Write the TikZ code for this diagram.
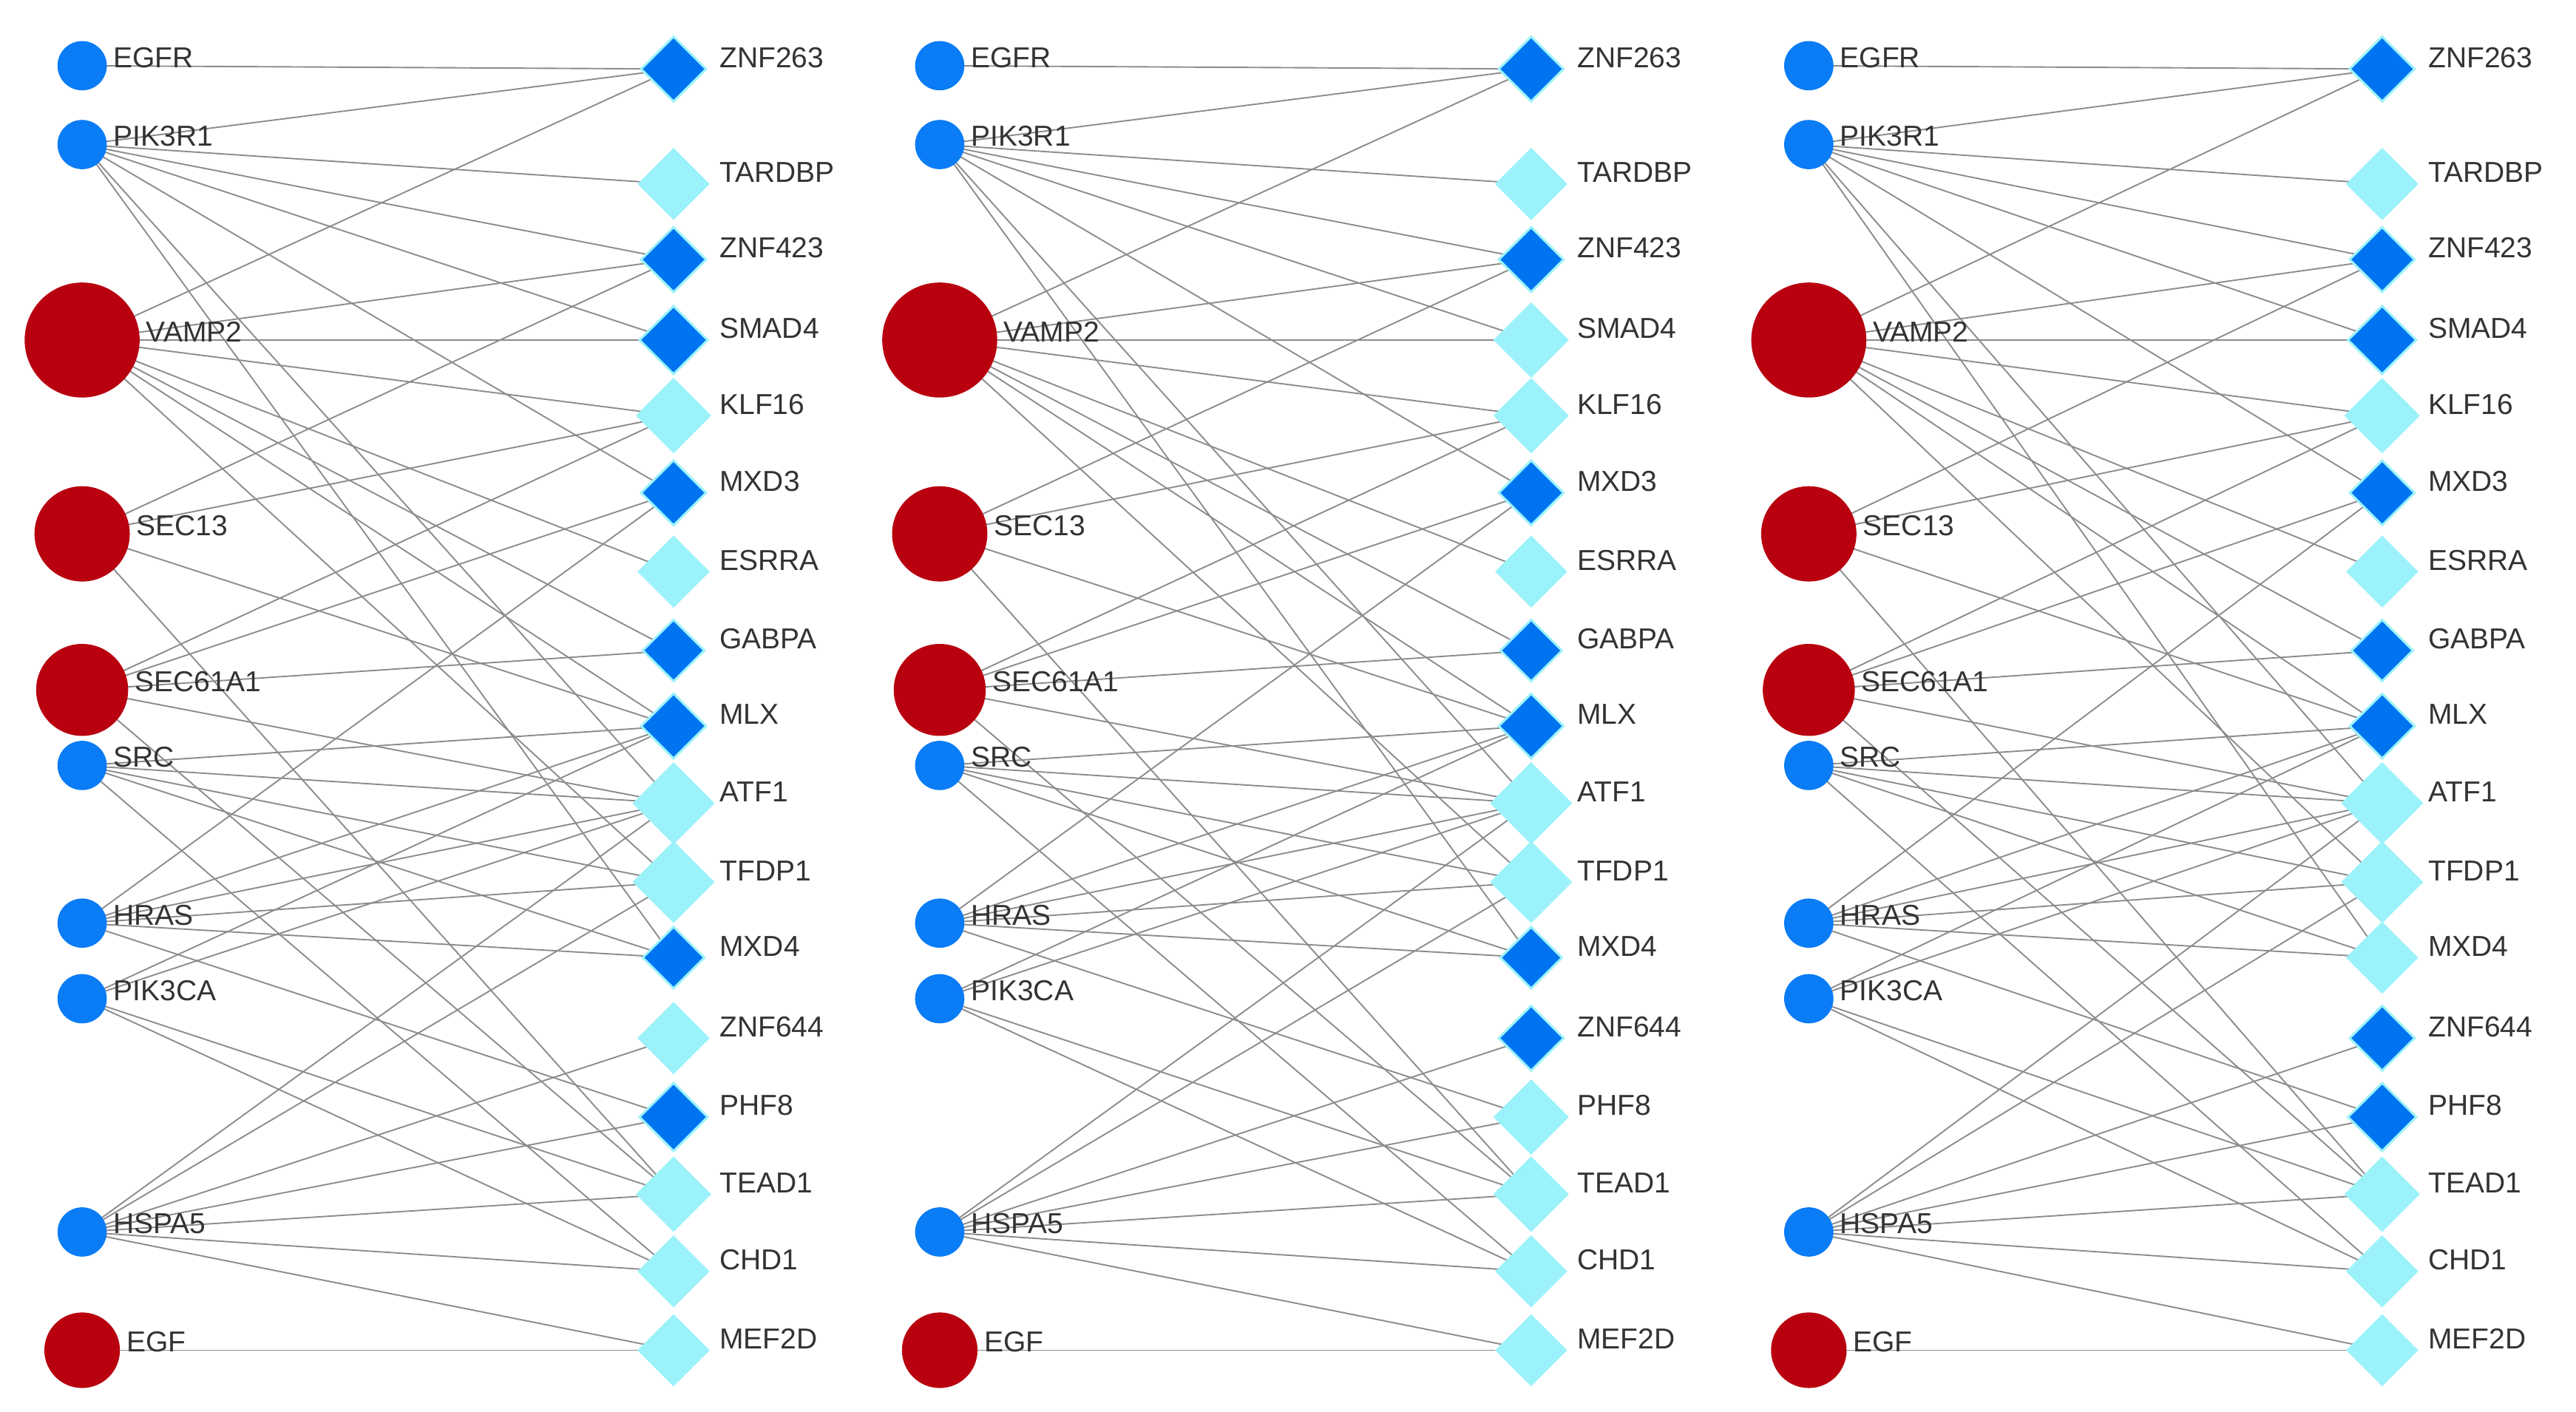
\documentclass[tikz,border=0pt]{standalone}
\usepackage{fontspec}
\setmainfont{Liberation Sans}
\usetikzlibrary{shapes.geometric,backgrounds}
\definecolor{bluen}{HTML}{0A7CF5}
\definecolor{redn}{HTML}{B8000F}
\definecolor{darkd}{HTML}{0073F0}
\definecolor{lightd}{HTML}{9CF2FA}
\tikzset{
  lnode/.style={circle,inner sep=0pt,draw=none},
  b/.style={fill=bluen},
  r/.style={fill=redn},
  d/.style={diamond,inner sep=0pt,fill=darkd,draw=lightd,line width=3pt},
  l/.style={diamond,inner sep=0pt,fill=lightd,draw=none},
  lab/.style={anchor=west,font=\fontsize{39}{41}\selectfont,text=black!80,inner sep=0pt},
  edge/.style={draw=gray!90,line width=1.9pt}
}
\newcommand\mypanel[4]{%
  \foreach \n/\y/\s/\z in {EGFR/40/b/30,PIK3R1/88/b/30,VAMP2/207/r/70,SEC13/325/r/58,SEC61A1/420/r/56,SRC/466/b/30,HRAS/562/b/30,PIK3CA/608/b/30,HSPA5/750/b/30,EGF/822/r/46}{
    \node[lnode,\s,minimum size=\z*2.222pt] (#3-\n) at (#1,\y) {};
    \node[lab] (#3-\n-t) at (#1+\z/2+4,\y-5) {\n};
  }
  \foreach \n/\y/\s/\z in {#4}{
    \node[\s,minimum size=\z*2.222pt] (#3-\n) at (#2,\y) {};
    \node[lab] (#3-\n-t) at (#2+28,\y-7) {\n};
  }
  \begin{pgfonlayer}{background}
  \foreach \a/\c in {EGFR/ZNF263,
    PIK3R1/ZNF263,PIK3R1/TARDBP,PIK3R1/ZNF423,PIK3R1/SMAD4,PIK3R1/MXD3,PIK3R1/ATF1,PIK3R1/MXD4,
    VAMP2/ZNF263,VAMP2/ZNF423,VAMP2/SMAD4,VAMP2/KLF16,VAMP2/ESRRA,VAMP2/GABPA,VAMP2/MLX,VAMP2/TFDP1,
    SEC13/ZNF423,SEC13/KLF16,SEC13/MLX,SEC13/TEAD1,
    SEC61A1/KLF16,SEC61A1/MXD3,SEC61A1/GABPA,SEC61A1/ATF1,SEC61A1/TEAD1,
    SRC/MLX,SRC/ATF1,SRC/TFDP1,SRC/MXD4,SRC/CHD1,
    HRAS/MXD3,HRAS/MLX,HRAS/ATF1,HRAS/TFDP1,HRAS/MXD4,HRAS/PHF8,
    PIK3CA/MLX,PIK3CA/ATF1,PIK3CA/TEAD1,PIK3CA/CHD1,
    HSPA5/ATF1,HSPA5/TFDP1,HSPA5/ZNF644,HSPA5/PHF8,HSPA5/TEAD1,HSPA5/CHD1,HSPA5/MEF2D,
    EGF/MEF2D}{
    \draw[edge] (#3-\a.center) -- (#3-\c.center);
  }
  \end{pgfonlayer}
}
\begin{document}
\begin{tikzpicture}[x=2.222pt,y=-2.222pt]
\useasboundingbox (0,0) rectangle (1568,859.6);
\mypanel{50}{410}{a}{ZNF263/42/d/40,TARDBP/112/l/44,ZNF423/158/d/40,SMAD4/207/d/42,KLF16/253/l/46,MXD3/300/d/40,ESRRA/348/l/44,GABPA/396/d/38,MLX/442/d/40,ATF1/489/l/50,TFDP1/537/l/50,MXD4/583/d/38,ZNF644/632/l/44,PHF8/680/d/42,TEAD1/727/l/46,CHD1/774/l/44,MEF2D/822/l/44}
\mypanel{572}{932}{b}{ZNF263/42/d/40,TARDBP/112/l/44,ZNF423/158/d/40,SMAD4/207/l/46,KLF16/253/l/46,MXD3/300/d/40,ESRRA/348/l/44,GABPA/396/d/38,MLX/442/d/40,ATF1/489/l/50,TFDP1/537/l/50,MXD4/583/d/38,ZNF644/632/d/40,PHF8/680/l/46,TEAD1/727/l/46,CHD1/774/l/44,MEF2D/822/l/44}
\mypanel{1101}{1450}{c}{ZNF263/42/d/40,TARDBP/112/l/44,ZNF423/158/d/40,SMAD4/207/d/42,KLF16/253/l/46,MXD3/300/d/40,ESRRA/348/l/44,GABPA/396/d/38,MLX/442/d/40,ATF1/489/l/50,TFDP1/537/l/50,MXD4/583/l/44,ZNF644/632/d/40,PHF8/680/d/42,TEAD1/727/l/46,CHD1/774/l/44,MEF2D/822/l/44}
\end{tikzpicture}
\end{document}
